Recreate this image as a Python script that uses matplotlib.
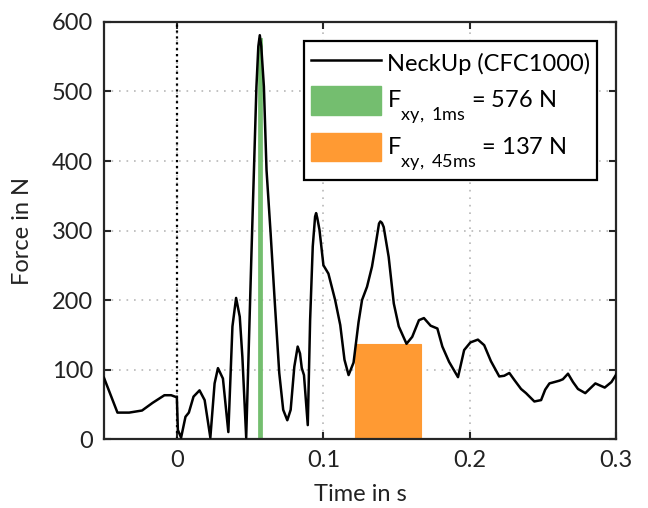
import matplotlib
matplotlib.use("Agg")
import matplotlib.pyplot as plt
from matplotlib import _mathtext
from matplotlib.lines import Line2D
from matplotlib.patches import Patch, Rectangle
from matplotlib.legend_handler import HandlerPatch

plt.rcParams['font.family'] = ['Lato', 'DejaVu Sans']
plt.rcParams['mathtext.fontset'] = 'custom'
plt.rcParams['mathtext.rm'] = 'Lato'
plt.rcParams['mathtext.it'] = 'Lato'
plt.rcParams['mathtext.bf'] = 'Lato'
# larger, deeper subscripts, closer to TeX-style index placement
_mathtext.FontConstantsBase.sub1 = 1.1
_mathtext.SHRINK_FACTOR = 0.77

# Upper neck shear force over time (s, N)
time_s = [-0.0500, -0.0408, -0.0328, -0.0240, -0.0168, -0.0087, -0.0041, -0.0002,
          0.0005, 0.0027, 0.0057, 0.0080, 0.0112, 0.0153, 0.0188, 0.0227,
          0.0256, 0.0279, 0.0313, 0.0350, 0.0378, 0.0403, 0.0428, 0.0446,
          0.0472, 0.0508, 0.0542, 0.0555, 0.0565, 0.0575, 0.0593, 0.0611,
          0.0639, 0.0668, 0.0698, 0.0725, 0.0753, 0.0776, 0.0801, 0.0824,
          0.0840, 0.0852, 0.0867, 0.0893, 0.0909, 0.0927, 0.0943, 0.0950,
          0.0958, 0.0973, 0.1000, 0.1034, 0.1080, 0.1115, 0.1144, 0.1172,
          0.1206, 0.1240, 0.1264, 0.1298, 0.1332, 0.1355, 0.1380, 0.1389,
          0.1400, 0.1412, 0.1446, 0.1481, 0.1515, 0.1568, 0.1607, 0.1653,
          0.1687, 0.1733, 0.1779, 0.1813, 0.1859, 0.1920, 0.1962, 0.2005,
          0.2056, 0.2099, 0.2145, 0.2202, 0.2236, 0.2271, 0.2305, 0.2351,
          0.2385, 0.2442, 0.2488, 0.2516, 0.2545, 0.2580, 0.2614, 0.2637,
          0.2672, 0.2706, 0.2740, 0.2790, 0.2859, 0.2923, 0.2969, 0.3008]
force_n = [88, 38, 38, 41, 52, 63, 63, 60,
           13, 2, 32, 38, 61, 70, 56, 2,
           80, 102, 87, 10, 162, 203, 176, 118,
           2, 267, 507, 565, 581, 565, 507, 387,
           296, 195, 95, 42, 27, 42, 104, 133,
           123, 102, 92, 20, 171, 277, 320, 325,
           318, 301, 250, 238, 200, 164, 114, 92,
           110, 168, 200, 219, 248, 277, 310, 313,
           311, 305, 262, 195, 162, 137, 147, 171,
           174, 163, 159, 133, 111, 89, 128, 139,
           143, 135, 112, 90, 91, 95, 85, 72,
           66, 54, 56, 71, 80, 82, 84, 86,
           94, 82, 72, 66, 80, 74, 82, 95]

# Peak-window evaluations: start time (s), window length (s), value (N)
win_1ms_start, win_1ms_len, win_1ms_value = 0.056, 0.001, 576
win_45ms_start, win_45ms_len, win_45ms_value = 0.1218, 0.045, 137

x_ticks = [0, 0.1, 0.2, 0.3]
x_tick_labels = ['0', '0.1', '0.2', '0.3']
y_ticks = [0, 100, 200, 300, 400, 500, 600]

green = '#74BE6F'
orange = '#FF9A33'
axis_col = '#262626'
text_col = '#222222'
fs = 17

fig = plt.figure(figsize=(6.48, 5.08), dpi=100)
ax = fig.add_axes([0.1605, 0.1358, 0.7901, 0.8209])

ax.bar(win_1ms_start, win_1ms_value, width=win_1ms_len, align='edge',
       color=green, edgecolor=green, linewidth=2.0, zorder=2)
ax.bar(win_45ms_start, win_45ms_value, width=win_45ms_len, align='edge',
       color=orange, edgecolor=orange, linewidth=0.8, zorder=2)
ax.plot(time_s, force_n, color='black', linewidth=1.8, zorder=3,
        solid_joinstyle='round')
ax.axvline(0, color='black', linestyle=':', linewidth=1.6, zorder=2.5)

ax.set_xlim(-0.05, 0.3)
ax.set_ylim(0, 600)
ax.set_xticks(x_ticks)
ax.set_xticklabels(x_tick_labels)
ax.set_yticks(y_ticks)

ax.grid(True, linestyle=(0, (1, 3.5)), color='#b8b8b8', linewidth=1.2, zorder=0)
ax.set_axisbelow(True)

for sp in ax.spines.values():
    sp.set_linewidth(1.6)
    sp.set_color(axis_col)
ax.tick_params(direction='in', length=5, width=1.5, color=axis_col,
               top=True, right=True, labelsize=fs, labelcolor=text_col, pad=8)

ax.set_xlabel('Time in s', fontsize=fs, color=text_col, labelpad=9)
ax.set_ylabel('Force in N', fontsize=fs, color=text_col, labelpad=13)


def swatch(legend, orig_handle, xdescent, ydescent, width, height, fontsize):
    # colour swatch a bit shorter than the row it sits in
    h = 1.22 * fontsize
    return Rectangle((-xdescent, -ydescent + (height - h) / 2), width, h)


handles = [
    Line2D([], [], color='black', linewidth=1.8),
    Patch(facecolor=green, edgecolor=green),
    Patch(facecolor=orange, edgecolor=orange),
]
labels = [
    'NeckUp (CFC1000)',
    r'F$_{\mathrm{xy,\ 1ms}}$ = 576 N',
    r'F$_{\mathrm{xy,\ 45ms}}$ = 137 N',
]
leg = ax.legend(handles, labels, loc='upper right', bbox_to_anchor=(0.963, 0.955),
                borderaxespad=0, fontsize=fs, handlelength=2.95, handleheight=1.7,
                handletextpad=0.25, labelspacing=0.2, borderpad=0.3,
                handler_map={Patch: HandlerPatch(patch_func=swatch)},
                fancybox=False, framealpha=1, edgecolor='black')
leg.get_frame().set_linewidth(1.6)

fig.savefig('out.png', dpi=100)
